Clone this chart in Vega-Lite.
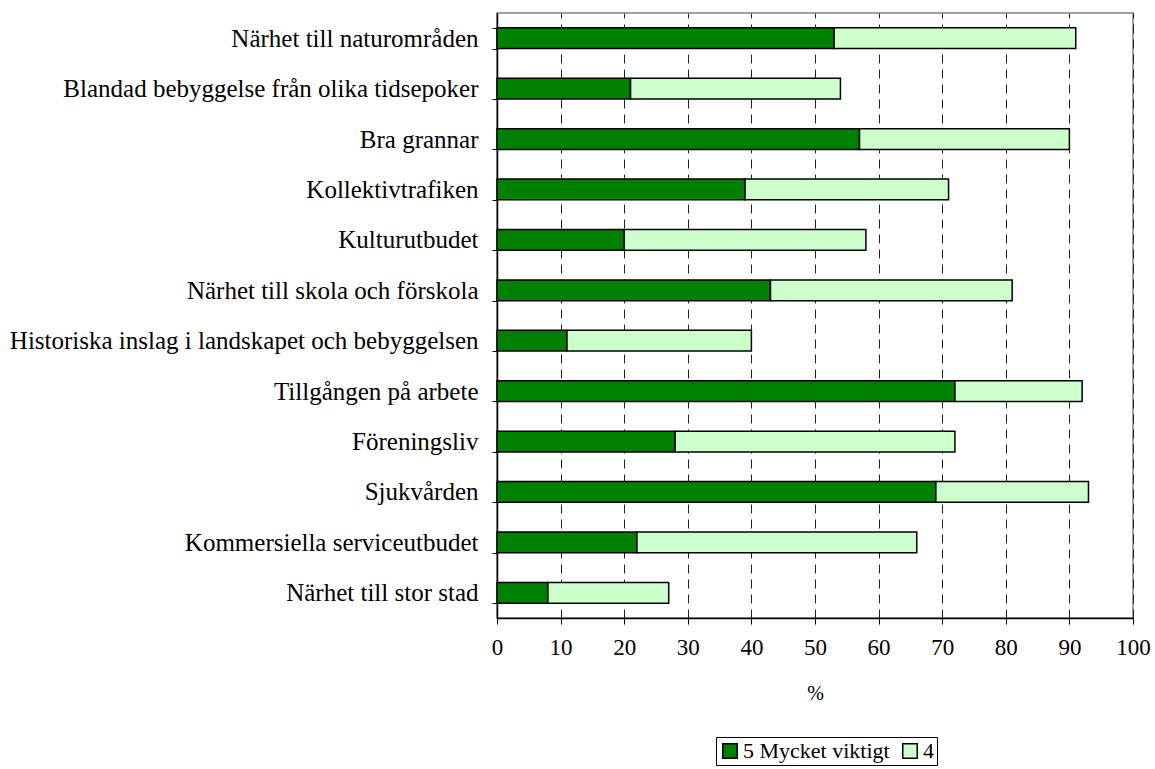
{
  "$schema": "https://vega.github.io/schema/vega-lite/v6.json",
  "width": 636,
  "height": 605,
  "autosize": {"type": "none"},
  "padding": {"left": 497, "top": 13, "right": 22, "bottom": 151},
  "background": "white",
  "config": {
    "view": {"stroke": "#808080", "strokeWidth": 1.5},
    "font": "Liberation Serif"
  },
  "data": {
    "values": [
      {"item": "Närhet till naturområden", "level": "5 Mycket viktigt", "ord": 1, "value": 53},
      {"item": "Närhet till naturområden", "level": "4", "ord": 2, "value": 38},
      {"item": "Blandad bebyggelse från olika tidsepoker", "level": "5 Mycket viktigt", "ord": 1, "value": 21},
      {"item": "Blandad bebyggelse från olika tidsepoker", "level": "4", "ord": 2, "value": 33},
      {"item": "Bra grannar", "level": "5 Mycket viktigt", "ord": 1, "value": 57},
      {"item": "Bra grannar", "level": "4", "ord": 2, "value": 33},
      {"item": "Kollektivtrafiken", "level": "5 Mycket viktigt", "ord": 1, "value": 39},
      {"item": "Kollektivtrafiken", "level": "4", "ord": 2, "value": 32},
      {"item": "Kulturutbudet", "level": "5 Mycket viktigt", "ord": 1, "value": 20},
      {"item": "Kulturutbudet", "level": "4", "ord": 2, "value": 38},
      {"item": "Närhet till skola och förskola", "level": "5 Mycket viktigt", "ord": 1, "value": 43},
      {"item": "Närhet till skola och förskola", "level": "4", "ord": 2, "value": 38},
      {"item": "Historiska inslag i landskapet och bebyggelsen", "level": "5 Mycket viktigt", "ord": 1, "value": 11},
      {"item": "Historiska inslag i landskapet och bebyggelsen", "level": "4", "ord": 2, "value": 29},
      {"item": "Tillgången på arbete", "level": "5 Mycket viktigt", "ord": 1, "value": 72},
      {"item": "Tillgången på arbete", "level": "4", "ord": 2, "value": 20},
      {"item": "Föreningsliv", "level": "5 Mycket viktigt", "ord": 1, "value": 28},
      {"item": "Föreningsliv", "level": "4", "ord": 2, "value": 44},
      {"item": "Sjukvården", "level": "5 Mycket viktigt", "ord": 1, "value": 69},
      {"item": "Sjukvården", "level": "4", "ord": 2, "value": 24},
      {"item": "Kommersiella serviceutbudet", "level": "5 Mycket viktigt", "ord": 1, "value": 22},
      {"item": "Kommersiella serviceutbudet", "level": "4", "ord": 2, "value": 44},
      {"item": "Närhet till stor stad", "level": "5 Mycket viktigt", "ord": 1, "value": 8},
      {"item": "Närhet till stor stad", "level": "4", "ord": 2, "value": 19}
    ]
  },
  "mark": {"type": "bar", "stroke": "black", "strokeWidth": 1.5},
  "encoding": {
    "y": {
      "field": "item",
      "type": "nominal",
      "sort": [
        "Närhet till naturområden",
        "Blandad bebyggelse från olika tidsepoker",
        "Bra grannar",
        "Kollektivtrafiken",
        "Kulturutbudet",
        "Närhet till skola och förskola",
        "Historiska inslag i landskapet och bebyggelsen",
        "Tillgången på arbete",
        "Föreningsliv",
        "Sjukvården",
        "Kommersiella serviceutbudet",
        "Närhet till stor stad"
      ],
      "scale": {"paddingInner": 0.59, "paddingOuter": 0.295},
      "axis": {
        "title": null,
        "tickBand": "extent",
        "tickSize": 5,
        "tickColor": "black",
        "domainColor": "black",
        "domainWidth": 1.5,
        "labelFont": "Liberation Serif",
        "labelFontSize": 25,
        "labelColor": "black",
        "labelPadding": 14,
        "labelLimit": 600,
        "grid": false
      }
    },
    "x": {
      "field": "value",
      "type": "quantitative",
      "stack": "zero",
      "scale": {"domain": [0, 100], "nice": false},
      "axis": {
        "title": "%",
        "titleFont": "Liberation Serif",
        "titleFontSize": 20,
        "titleFontWeight": "normal",
        "titleColor": "black",
        "titlePadding": 24,
        "values": [0, 10, 20, 30, 40, 50, 60, 70, 80, 90, 100],
        "tickSize": 6,
        "tickColor": "black",
        "domainColor": "black",
        "domainWidth": 1.5,
        "labelFont": "Liberation Serif",
        "labelFontSize": 23,
        "labelColor": "black",
        "labelPadding": 12,
        "labelFlush": false,
        "grid": true,
        "gridColor": "#222222",
        "gridDash": [9, 6],
        "gridWidth": 1
      }
    },
    "color": {
      "field": "level",
      "type": "nominal",
      "scale": {"domain": ["5 Mycket viktigt", "4"], "range": ["#008000", "#CCFFCC"]},
      "legend": {
        "title": null,
        "orient": "none",
        "legendX": 219,
        "legendY": 724,
        "direction": "horizontal",
        "symbolType": "square",
        "symbolSize": 210,
        "symbolStrokeColor": "black",
        "symbolStrokeWidth": 1.5,
        "symbolOpacity": 1,
        "labelFont": "Liberation Serif",
        "labelFontSize": 22,
        "labelColor": "black",
        "labelOffset": 2,
        "columnPadding": 9,
        "strokeColor": "black",
        "padding": 3
      }
    },
    "order": {"field": "ord", "type": "quantitative"}
  }
}
